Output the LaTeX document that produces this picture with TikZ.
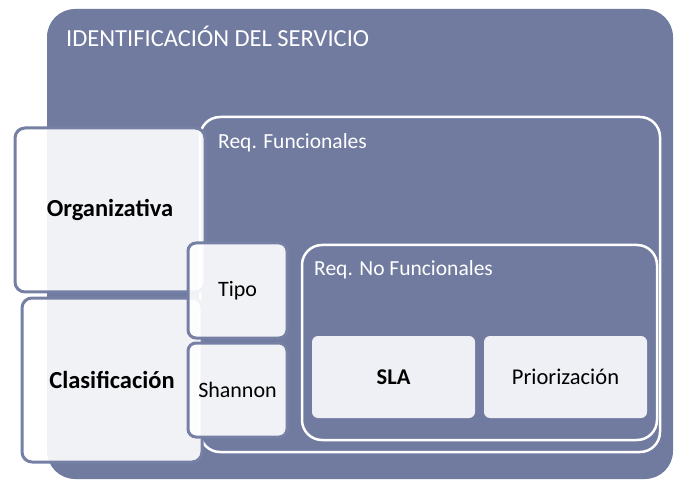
\documentclass[tikz,border=0pt]{standalone}
\usepackage{fontspec}
\setmainfont{Carlito}
\definecolor{bgblue}{RGB}{113,123,160}
\definecolor{edgeblue}{RGB}{118,127,164}
\definecolor{lightfill}{RGB}{239,240,245}
\begin{document}
\begin{tikzpicture}[x=1pt,y=-1pt,
  bgbox/.style={fill=bgblue,draw=none,rounded corners=28pt,minimum width=626pt,minimum height=470pt,inner sep=0pt},
  outlinebox/.style={draw=white,line width=2.5pt,fill=bgblue,rounded corners=20pt,inner sep=0pt},
  sidebox/.style={draw=edgeblue,line width=3pt,fill=white,fill opacity=0.9,text opacity=1,rounded corners=10pt,inner sep=0pt,font=\fontsize{24.5}{28}\selectfont\bfseries},
  smallbox/.style={draw=edgeblue,line width=3pt,fill=white,fill opacity=0.9,text opacity=1,rounded corners=8pt,inner sep=0pt,font=\fontsize{22}{26}\selectfont},
  innerbox/.style={draw=none,fill=lightfill,rounded corners=6pt,inner sep=0pt,minimum width=163pt,minimum height=82pt,font=\fontsize{22.5}{26}\selectfont},
  headtext/.style={anchor=west,text=white,inner sep=0pt,font=\fontsize{21.5}{25}\selectfont}
]
\useasboundingbox (0,0) rectangle (675,481);
\node[bgbox] (bg) at (360,244) {};
\node[headtext,font=\fontsize{24.5}{28}\selectfont] (title) at (66,36) {IDENTIFICACIÓN DEL SERVICIO};
\node[outlinebox,minimum width=460pt,minimum height=335pt] (rf) at (430,284.5) {};
\node[headtext] (rft) at (218,143) {Req. Funcionales};
\node[outlinebox,minimum width=355pt,minimum height=195pt] (rnf) at (479.5,342.5) {};
\node[headtext] (rnft) at (314,270) {Req. No Funcionales};
\node[innerbox] (sla) at (393.5,377) {\bfseries SLA};
\node[innerbox] (prio) at (565.5,377) {Priorización};
\node[sidebox,minimum width=190pt,minimum height=164pt] (org) at (110,210) {Organizativa};
\node[sidebox,minimum width=180pt,minimum height=164pt] (cla) at (112,380) {Clasificación};
\node[smallbox,minimum width=99pt,minimum height=95pt] (tipo) at (237.5,290.5) {Tipo};
\node[smallbox,minimum width=99pt,minimum height=94pt] (sha) at (237.5,390) {Shannon};
\end{tikzpicture}
\end{document}
